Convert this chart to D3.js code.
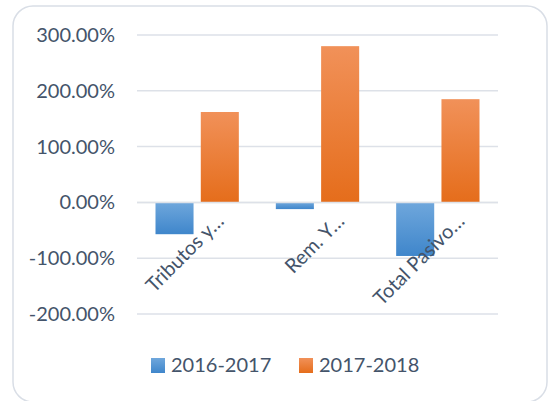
<!DOCTYPE html>
<html lang="es">
<head>
<meta charset="utf-8">
<title>Variación</title>
<script src="https://cdn.jsdelivr.net/npm/d3@7"></script>
<style>
  body { margin: 0; background: #fff; }
  text { font-family: Lato, "Open Sans", sans-serif; fill: #44546a; }
</style>
</head>
<body>
<div id="chart"></div>
<script>
// datos
var categorias = ["Tributos y…", "Rem. Y…", "Total Pasivo…"];
var series = ["2016-2017", "2017-2018"];
var v2016_2017 = [-57, -12, -96];
var v2017_2018 = [162, 280, 185];
var yTicks = [-200, -100, 0, 100, 200, 300];

var colores = {
    "2016-2017": ["#6fa7dc", "#3f86cb"],
    "2017-2018": ["#f19159", "#e56d1b"]
};

var W = 548, H = 401;
var svg = d3.select("#chart").append("svg")
    .attr("width", W)
    .attr("height", H);

// gradientes
var defs = svg.append("defs");
series.forEach(function(s, i) {
    var g = defs.append("linearGradient")
        .attr("id", "grad" + i)
        .attr("x1", 0).attr("y1", 0).attr("x2", 0).attr("y2", 1);
    g.append("stop").attr("offset", "0%").attr("stop-color", colores[s][0]);
    g.append("stop").attr("offset", "100%").attr("stop-color", colores[s][1]);
});

// marco
svg.append("rect")
    .attr("x", 13).attr("y", 6)
    .attr("width", 534).attr("height", 396)
    .attr("rx", 20)
    .attr("fill", "none")
    .attr("stroke", "#d9dee6")
    .attr("stroke-width", 1.5);

var y = d3.scaleLinear().domain([-200, 300]).range([314, 35]);
var x0 = d3.scaleBand().domain(categorias).range([137, 498]).padding(0);
var x1 = d3.scaleBand().domain(series)
    .range([18.5, x0.bandwidth() - 18.5])
    .paddingInner(0.16).paddingOuter(0);

// rejilla
svg.append("g").selectAll("line")
    .data(yTicks)
    .enter().append("line")
        .attr("x1", 137).attr("x2", 498)
        .attr("y1", function(d) { return y(d); })
        .attr("y2", function(d) { return y(d); })
        .attr("stroke", "#dde1e8")
        .attr("stroke-width", 1.5);

// etiquetas eje y
svg.append("g").selectAll("text")
    .data(yTicks)
    .enter().append("text")
        .attr("x", 115)
        .attr("y", function(d) { return y(d); })
        .attr("dy", "0.35em")
        .attr("text-anchor", "end")
        .style("font-size", "20px")
        .text(function(d) { return d.toFixed(2) + "%"; });

// barras
var valores = { "2016-2017": v2016_2017, "2017-2018": v2017_2018 };
series.forEach(function(s, si) {
    svg.append("g").selectAll("rect")
        .data(categorias)
        .enter().append("rect")
            .attr("x", function(c) { return x0(c) + x1(s); })
            .attr("width", x1.bandwidth())
            .attr("y", function(c, i) { return y(Math.max(0, valores[s][i])); })
            .attr("height", function(c, i) { return Math.abs(y(valores[s][i]) - y(0)); })
            .attr("fill", "url(#grad" + si + ")");
});

// línea del cero encima
svg.append("line")
    .attr("x1", 137).attr("x2", 498)
    .attr("y1", y(0)).attr("y2", y(0))
    .attr("stroke", "#dde1e8")
    .attr("stroke-width", 1.5);

// etiquetas categorías
svg.append("g").selectAll("text")
    .data(categorias)
    .enter().append("text")
        .attr("transform", function(c) {
            return "translate(" + (x0(c) + x0.bandwidth() / 2 + 28) + "," + (y(0) + 20) + ") rotate(-45)";
        })
        .attr("text-anchor", "end")
        .style("font-size", "20px")
        .text(function(c) { return c; });

// leyenda
var leg = svg.append("g").selectAll("g")
    .data(series)
    .enter().append("g")
        .attr("transform", function(s, i) { return "translate(" + (151 + i * 148) + ",358)"; });
leg.append("rect")
    .attr("width", 14).attr("height", 15)
    .attr("fill", function(s, i) { return "url(#grad" + i + ")"; });
leg.append("text")
    .attr("x", 20).attr("y", 14)
    .style("font-size", "20px")
    .text(function(s) { return s; });
</script>
</body>
</html>
